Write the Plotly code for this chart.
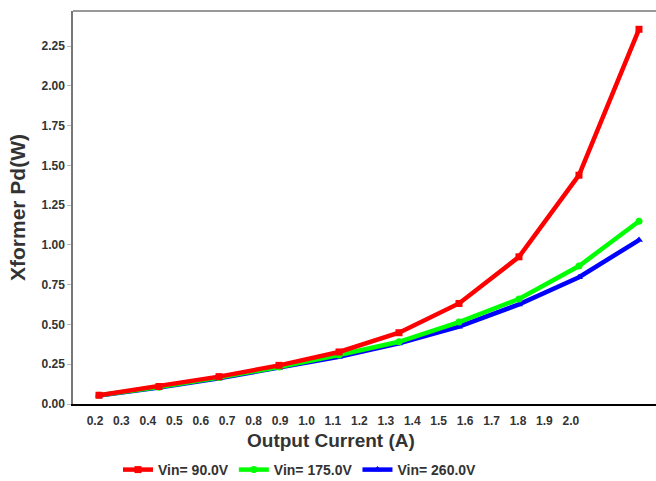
import plotly.graph_objects as go

current = [0.2, 0.4, 0.6, 0.8, 1.0, 1.2, 1.4, 1.6, 1.8, 2.0]
pd_90 = [0.055, 0.110, 0.172, 0.243, 0.327, 0.448, 0.632, 0.925, 1.438, 2.355]
pd_175 = [0.055, 0.106, 0.166, 0.233, 0.308, 0.391, 0.515, 0.660, 0.867, 1.149]
pd_260 = [0.053, 0.103, 0.161, 0.226, 0.297, 0.381, 0.486, 0.626, 0.797, 1.030]
x_tick_labels = [0.2, 0.3, 0.4, 0.5, 0.6, 0.7, 0.8, 0.9, 1.0, 1.1, 1.2, 1.3, 1.4,
                 1.5, 1.6, 1.7, 1.8, 1.9, 2.0]
y_ticks = [0.0, 0.25, 0.5, 0.75, 1.0, 1.25, 1.5, 1.75, 2.0, 2.25]

FONT = "Liberation Sans"
TXT = "#333333"

fig = go.Figure()
series = [
    ("Vin= 260.0V", pd_260, "#0000FF", "triangle-up"),
    ("Vin= 175.0V", pd_175, "#00FF00", "circle"),
    ("Vin= 90.0V", pd_90, "#FF0000", "square"),
]
for name, ys, col, sym in series:
    fig.add_trace(go.Scatter(
        x=current, y=ys, name=name, mode="lines+markers",
        line=dict(color=col, width=4.5),
        marker=dict(color=col, symbol=sym, size=7),
    ))

# carrier for the (independently spaced) tick-label axis
fig.add_trace(go.Scatter(x=x_tick_labels, y=[None] * len(x_tick_labels), xaxis="x2",
                         mode="markers", showlegend=False, hoverinfo="skip"))

fig.update_layout(
    width=656, height=481,
    margin=dict(l=73, r=0, t=11, b=77, autoexpand=False),
    paper_bgcolor="white", plot_bgcolor="white",
    font=dict(family=FONT, color=TXT, size=12, weight="bold"),
    showlegend=True,
    legend=dict(orientation="h", x=(300 - 73) / 583, xanchor="center", y=(404 - 470) / 393,
                yanchor="middle",
                traceorder="reversed", font=dict(size=14, family=FONT, weight="bold", color=TXT),
                itemwidth=30, tracegroupgap=0),
    xaxis=dict(range=[0.1133, 2.0567], showticklabels=False, ticks="",
               showline=True, linecolor="black", linewidth=1.5, mirror=False,
               showgrid=False, zeroline=False, automargin=False),
    xaxis2=dict(overlaying="x", anchor="y", side="bottom", range=[0.1167, 2.322],
                tickmode="array", tickvals=x_tick_labels,
                ticktext=[f"{v:.1f}" for v in x_tick_labels],
                ticks="", ticklabelstandoff=8, showline=False, showgrid=False, zeroline=False,
                automargin=False,
                tickfont=dict(size=12, family=FONT, weight="bold", color=TXT)),
    yaxis=dict(range=[0, 2.47], tickmode="array", tickvals=y_ticks,
               ticktext=[f"{v:.2f}" for v in y_ticks],
               ticks="outside", ticklen=4, tickcolor="#bbbbbb", tickwidth=1,
               showline=True, linecolor="#777777", linewidth=1.5,
               showgrid=False, zeroline=False, automargin=False,
               tickfont=dict(size=12, family=FONT, weight="bold", color=TXT),
               title=dict(text="Xformer Pd(W)", standoff=10,
                          font=dict(size=21, family=FONT, weight="bold", color=TXT))),
)

# top border line
fig.add_shape(type="line", xref="paper", yref="paper", x0=0, x1=1, y0=1, y1=1,
              line=dict(color="#777777", width=1.5))

fig.add_annotation(text="Output Current (A)", xref="paper", yref="paper",
                   x=(331 - 73) / 583, y=(404 - 441) / 393, xanchor="center", yanchor="middle",
                   showarrow=False,
                   font=dict(size=19, family=FONT, weight="bold", color=TXT))

fig.write_html("out.html", config={"displayModeBar": False},
               post_script="document.body.style.margin='0';")
